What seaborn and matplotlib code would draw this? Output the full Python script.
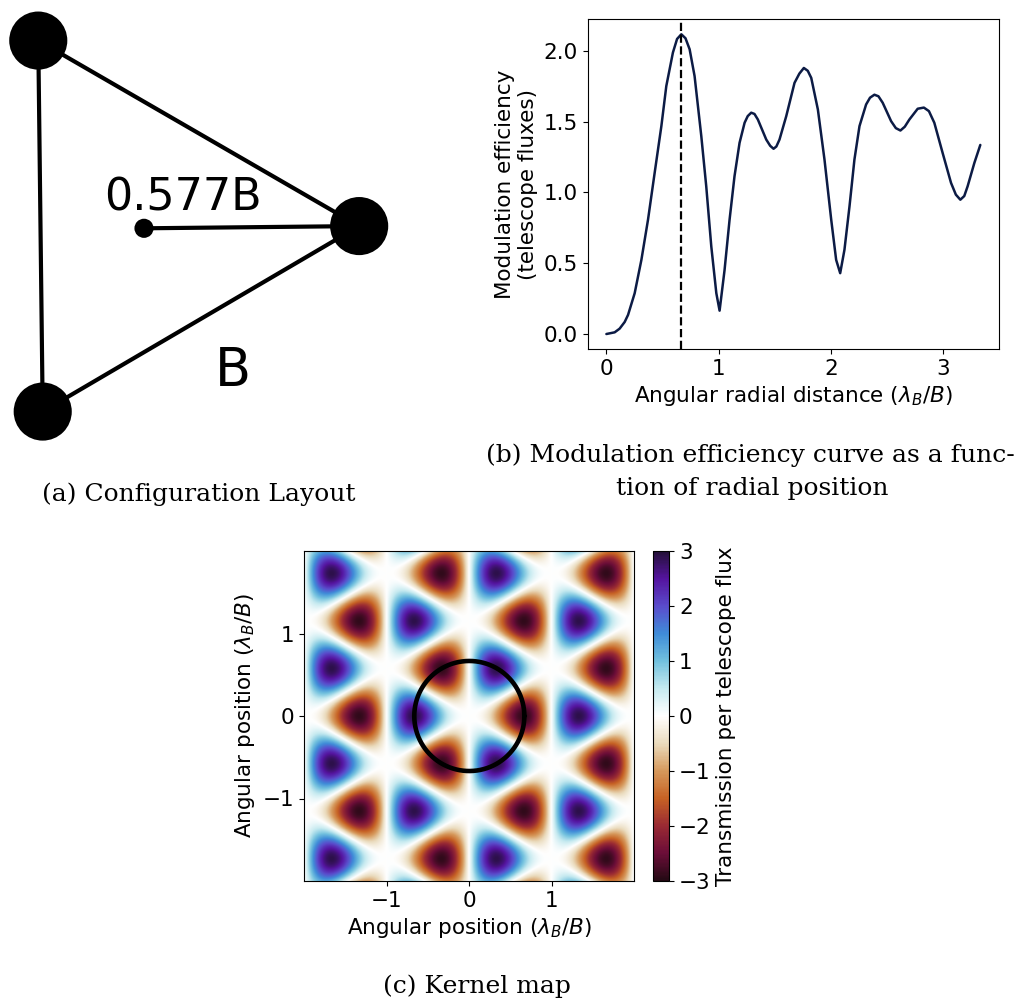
import numpy as np
import pandas as pd
import matplotlib
matplotlib.use("Agg")
import matplotlib.pyplot as plt
import seaborn as sns
from matplotlib.colors import LinearSegmentedColormap

# (a) telescope layout, positions in units of B, relative to the array centre
tel_x = [-0.285, 0.580, -0.273]
tel_y = [0.506, 0.006, -0.494]
centre_x = [0.0]
centre_y = [0.0]

# (b) modulation efficiency curve
radial_dist = [0.000, 0.074, 0.118, 0.163, 0.193, 0.252, 0.312, 0.371, 0.430, 0.490,
               0.534, 0.593, 0.630, 0.668, 0.705, 0.742, 0.786, 0.846, 0.890, 0.935,
               0.980, 1.009, 1.053, 1.098, 1.142, 1.187, 1.232, 1.260, 1.291, 1.320,
               1.350, 1.425, 1.460, 1.490, 1.515, 1.543, 1.603, 1.677, 1.720, 1.760,
               1.795, 1.826, 1.885, 1.944, 2.004, 2.048, 2.084, 2.122, 2.167, 2.211,
               2.256, 2.315, 2.350, 2.389, 2.425, 2.463, 2.538, 2.580, 2.621, 2.660,
               2.701, 2.775, 2.830, 2.875, 2.923, 2.997, 3.072, 3.115, 3.155, 3.190,
               3.220, 3.280, 3.333]
mod_eff = [0.000, 0.012, 0.038, 0.085, 0.135, 0.288, 0.524, 0.808, 1.138, 1.469,
           1.752, 1.989, 2.085, 2.118, 2.090, 2.012, 1.823, 1.398, 1.044, 0.619,
           0.288, 0.165, 0.450, 0.808, 1.115, 1.351, 1.493, 1.540, 1.564, 1.555,
           1.516, 1.374, 1.330, 1.309, 1.325, 1.374, 1.539, 1.775, 1.840, 1.880,
           1.860, 1.810, 1.587, 1.233, 0.808, 0.524, 0.430, 0.595, 0.902, 1.233,
           1.469, 1.622, 1.670, 1.691, 1.680, 1.634, 1.504, 1.455, 1.438, 1.465,
           1.516, 1.592, 1.600, 1.575, 1.493, 1.280, 1.068, 0.985, 0.949, 0.975,
           1.044, 1.209, 1.336]
peak_dist = 0.667

# (c) kernel map: fringe geometry
null_normal_deg = [0, 120, 240]   # directions normal to the three families of white null lines
null_spacing = 1.0                # spacing of the null lines (lambda_B / B)
lobe_peak = 2.9                   # value at the darkest lobe centres
map_half = 2.0
circle_r = 0.667
cbar_ticks = [-3, -2, -1, 0, 1, 2, 3]

# colour scale as seen on the colour bar, from -3 up to +3
cbar_colors = ["#240a14", "#6b0d38", "#9a2a33", "#c76224", "#d6995c", "#eadbbd", "#ffffff",
               "#c6eaf0", "#72c1de", "#3f8cd8", "#5a4ccc", "#5514a0", "#241038"]

sns.set_style("ticks", {"axes.edgecolor": "black", "text.color": "black",
                        "xtick.color": "black", "ytick.color": "black",
                        "axes.labelcolor": "black"})
plt.rcParams["font.family"] = ["DejaVu Sans"]
plt.rcParams["font.size"] = 15.5

W, H = 1028, 1006
fig = plt.figure(figsize=(W / 100, H / 100), dpi=100)


def px_rect(x0, y0, x1, y1):
    return [x0 / W, 1 - y1 / H, (x1 - x0) / W, (y1 - y0) / H]


# ---- (a) configuration layout ----
scale = 371.0  # pixels per B
cx, cy = 144.0, 228.3
ax_a = fig.add_axes(px_rect(0, 0, 400, 460))
ax_a.set_xlim((0 - cx) / scale, (400 - cx) / scale)
ax_a.set_ylim((cy - 460) / scale, cy / scale)
ax_a.axis("off")
for i, j in [(0, 1), (1, 2), (2, 0)]:
    ax_a.plot([tel_x[i], tel_x[j]], [tel_y[i], tel_y[j]], color="k", lw=3, zorder=1)
ax_a.plot([centre_x[0], tel_x[1]], [centre_y[0], tel_y[1]], color="k", lw=3, zorder=1)
sns.scatterplot(x=tel_x, y=tel_y, ax=ax_a, s=1750, color="k", edgecolor="none", zorder=2, legend=False)
sns.scatterplot(x=centre_x, y=centre_y, ax=ax_a, s=190, color="k", edgecolor="none", zorder=2, legend=False)
ax_a.text(0.104, 0.049, "0.577B", fontsize=32, ha="center", va="baseline")
ax_a.text(0.239, -0.425, "B", fontsize=38, ha="center", va="baseline")

# ---- (b) modulation efficiency ----
ax_b = fig.add_axes(px_rect(587.7, 19.3, 999, 349))
df = pd.DataFrame({"r": radial_dist, "eff": mod_eff})
sns.lineplot(data=df, x="r", y="eff", ax=ax_b, color="#0c1b45", lw=1.8)
ax_b.axvline(peak_dist, color="k", ls="--", lw=1.6)
ax_b.set_xticks([0, 1, 2, 3])
ax_b.set_yticks([0.0, 0.5, 1.0, 1.5, 2.0])
ax_b.set_yticklabels(["0.0", "0.5", "1.0", "1.5", "2.0"])
ax_b.set_xlabel(r"Angular radial distance ($\lambda_B/B$)", fontsize=15.5)
ax_b.set_ylabel("Modulation efficiency\n(telescope fluxes)", fontsize=15.5)
ax_b.tick_params(labelsize=15.5)

# ---- (c) kernel map ----
cmap = LinearSegmentedColormap.from_list("kernel", cbar_colors)
ax_c = fig.add_axes(px_rect(304.3, 551, 634.3, 881))
g = np.linspace(-map_half, map_half, 600)
X, Y = np.meshgrid(g, g)
kernel = np.zeros_like(X)
for ang in null_normal_deg:
    a = np.deg2rad(ang)
    kernel += np.sin(2 * np.pi * (X * np.cos(a) + Y * np.sin(a)) / null_spacing)
kernel *= lobe_peak / np.abs(kernel).max()
im = ax_c.imshow(kernel, extent=[-map_half, map_half, -map_half, map_half], origin="lower",
                 cmap=cmap, vmin=-3, vmax=3, interpolation="bilinear")
theta = np.linspace(0, 2 * np.pi, 400)
ax_c.plot(circle_r * np.cos(theta), circle_r * np.sin(theta), color="k", lw=3.3)
ax_c.set_xlim(-map_half, map_half)
ax_c.set_ylim(-map_half, map_half)
ax_c.set_xticks([-1, 0, 1])
ax_c.set_yticks([-1, 0, 1])
ax_c.set_xlabel(r"Angular position ($\lambda_B/B$)", fontsize=15.5)
ax_c.set_ylabel(r"Angular position ($\lambda_B/B$)", fontsize=15.5)
ax_c.tick_params(labelsize=15.5)

cax = fig.add_axes(px_rect(652.7, 551, 669.3, 881))
cb = fig.colorbar(im, cax=cax, ticks=cbar_ticks)
cb.set_label("Transmission per telescope flux", fontsize=15.5)
cb.ax.tick_params(labelsize=15.5)
cb.outline.set_linewidth(0.8)

# ---- captions ----
serif = ["DejaVu Serif"]
cap = 18
fig.text(198.5 / W, 1 - 494 / H, "(a) Configuration Layout", family=serif, fontsize=cap,
         ha="center", va="center")
fig.text(750 / W, 1 - 455 / H, "(b) Modulation efficiency curve as a func-", family=serif,
         fontsize=cap, ha="center", va="center")
fig.text(752 / W, 1 - 488 / H, "tion of radial position", family=serif, fontsize=cap,
         ha="center", va="center")
fig.text(477 / W, 1 - 986 / H, "(c) Kernel map", family=serif, fontsize=cap,
         ha="center", va="center")

fig.savefig("out.png", dpi=100)
